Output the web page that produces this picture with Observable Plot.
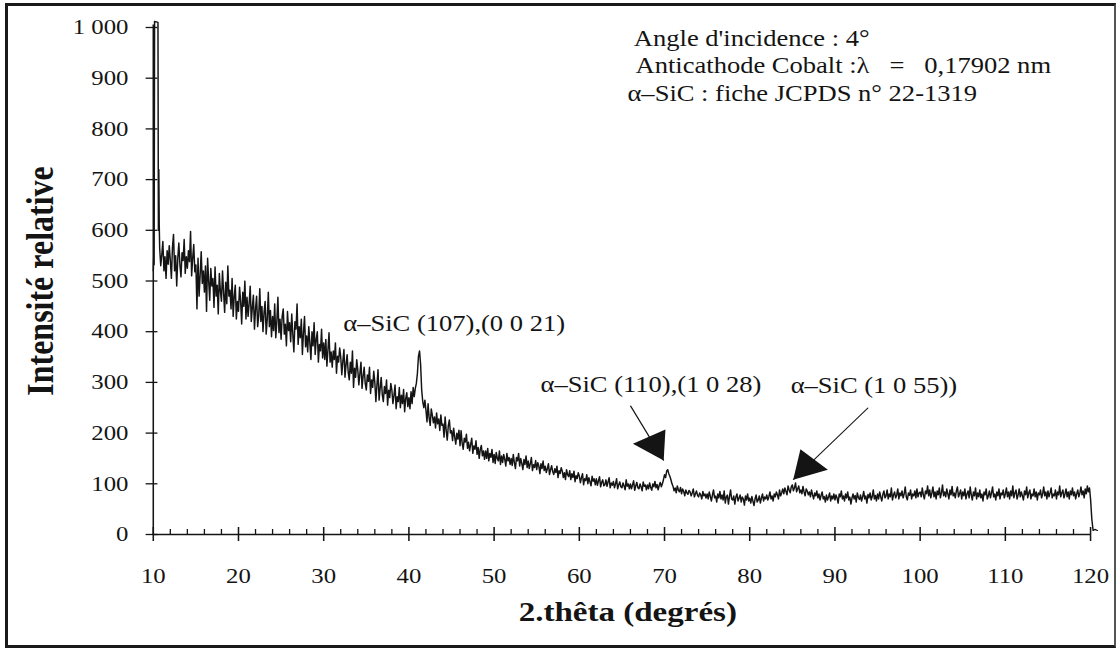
<!DOCTYPE html>
<html><head><meta charset="utf-8">
<script src="https://cdn.jsdelivr.net/npm/d3@7"></script>
<script src="https://cdn.jsdelivr.net/npm/@observablehq/plot@0.6"></script>
<style>
html,body{margin:0;padding:0;background:#fff;}
#wrap{position:relative;width:1118px;height:652px;overflow:hidden;background:#fff;}
#chart{position:absolute;left:0;top:0;transform:scaleX(1.18);transform-origin:0 0;}
#border{position:absolute;left:5px;top:3px;width:1111px;height:645px;box-sizing:border-box;border:3px solid #1a1a1a;border-right:2px solid #555;pointer-events:none;}
</style></head>
<body><div id="wrap"><div id="chart"></div><div id="border"></div></div>
<script>
// ---- data ----
const onsetTheta = [10.0, 10.05, 10.1, 10.15, 10.55, 10.6, 10.65, 10.7];
const onsetIntensity = [520, 548, 532, 1012, 1010, 600, 720, 610];

// scan from 10.75° with a 0.125° step (one row per degree)
const scanStart = 10.75, scanStep = 0.125;
const scanIntensity = [
  565, 530,
  552, 578, 520, 548, 505, 560, 533, 570,
  540, 505, 566, 592, 520, 550, 490, 545,
  575, 532, 508, 556, 540, 582, 515, 548,
  525, 560, 538, 598, 510, 545, 572, 518,
  532, 445, 545, 470, 512, 558, 495, 520,
  478, 530, 440, 545, 500, 462, 525, 490,
  505, 448, 528, 470, 492, 435, 515, 480,
  460, 520, 478, 438, 498, 455, 530, 470,
  482, 445, 505, 430, 470, 492, 425, 460,
  440, 488, 460, 415, 478, 450, 500, 425,
  468, 430, 455, 490, 420, 448, 472, 405,
  445, 470, 410, 432, 485, 420, 450, 400,
  438, 460, 395, 425, 478, 410, 442, 390,
  430, 402, 455, 388, 420, 468, 398, 425,
  385, 430, 445, 395, 415, 372, 440, 402,
  418, 380, 435, 395, 360, 420, 405, 455,
  375, 410, 388, 425, 355, 398, 430, 370,
  392, 360, 410, 378, 345, 400, 372, 418,
  355, 385, 400, 340, 375, 362, 405, 348,
  378, 345, 385, 332, 365, 398, 340, 360,
  330, 362, 345, 378, 318, 352, 340, 368,
  350, 315, 342, 365, 310, 335, 355, 320,
  305, 340, 318, 362, 290, 328, 310, 345,
  325, 295, 318, 340, 288, 312, 330, 298,
  285, 315, 302, 330, 278, 305, 290, 322,
  300, 262, 295, 325, 265, 288, 310, 276,
  262, 292, 278, 305, 255, 285, 270, 298,
  285, 258, 275, 295, 248, 272, 262, 290,
  250, 275, 258, 286, 242, 268, 280, 252,
  270, 248, 282, 258, 290, 272, 288, 298,
  318, 352, 362, 335, 285, 262, 250, 265,
  245, 222, 258, 230, 215, 248, 235, 220,
  232, 210, 240, 218, 228, 205, 236, 215,
  218, 192, 232, 205, 186, 215, 226, 200,
  205, 185, 210, 192, 178, 200, 188, 206,
  175, 205, 180, 168, 190, 182, 198, 170,
  182, 165, 178, 190, 160, 175, 168, 185,
  158, 172, 150, 168, 176, 155, 165, 148,
  165, 150, 170, 145, 160, 152, 168, 142,
  158, 140, 162, 150, 145, 165, 138, 155,
  142, 158, 148, 135, 160, 145, 152, 138,
  150, 136, 158, 142, 130, 152, 145, 160,
  135, 150, 140, 128, 148, 138, 155, 132,
  145, 130, 140, 152, 126, 138, 132, 146,
  128, 142, 135, 120, 140, 130, 145, 126,
  135, 122, 130, 140, 118, 128, 136, 124,
  118, 130, 122, 135, 112, 126, 120, 132,
  125, 112, 122, 108, 128, 118, 114, 126,
  108, 120, 112, 125, 104, 116, 110, 122,
  115, 102, 112, 120, 98, 110, 106, 118,
  100, 112, 104, 96, 115, 105, 110, 98,
  110, 97, 106, 114, 94, 103, 108, 96,
  98, 108, 95, 104, 112, 92, 102, 97,
  105, 92, 100, 110, 90, 98, 104, 94,
  92, 102, 96, 88, 108, 95, 100, 90,
  100, 90, 98, 106, 87, 96, 103, 92,
  90, 100, 94, 86, 104, 95, 98, 88,
  98, 90, 102, 93, 87, 100, 94, 105,
  92, 99, 88, 97, 103, 94, 100, 108,
  118, 112, 125, 128, 120, 115, 108, 100,
  95, 86, 92, 82, 96, 88, 84, 93,
  80, 90, 85, 76, 88, 82, 79, 87,
  84, 76, 82, 90, 74, 80, 86, 77,
  74, 82, 78, 70, 85, 76, 80, 72,
  80, 70, 84, 75, 66, 78, 88, 72,
  76, 64, 80, 72, 85, 70, 78, 68,
  86, 62, 74, 78, 60, 75, 88, 70,
  68, 76, 60, 74, 80, 66, 72, 78,
  64, 74, 70, 58, 76, 68, 80, 66,
  72, 62, 75, 66, 57, 70, 78, 64,
  68, 76, 62, 72, 80, 66, 74, 70,
  78, 68, 75, 84, 70, 76, 66, 80,
  74, 84, 78, 70, 88, 76, 82, 90,
  80, 92, 85, 78, 96, 88, 82, 94,
  98, 86, 92, 102, 84, 90, 96, 82,
  88, 80, 95, 84, 76, 90, 86, 78,
  84, 74, 88, 78, 70, 82, 76, 86,
  72, 80, 68, 77, 84, 70, 75, 64,
  78, 68, 74, 82, 66, 76, 70, 80,
  68, 78, 72, 62, 80, 74, 86, 70,
  76, 66, 80, 72, 84, 68, 74, 60,
  72, 80, 70, 77, 64, 82, 73, 69,
  78, 66, 74, 85, 70, 76, 62, 79,
  72, 82, 68, 75, 88, 70, 77, 66,
  80, 70, 84, 74, 66, 79, 86, 72,
  76, 88, 70, 80, 74, 92, 68, 78,
  84, 72, 78, 90, 70, 82, 76, 86,
  72, 80, 94, 74, 68, 82, 77, 88,
  70, 80, 76, 86, 72, 90, 74, 82,
  84, 74, 92, 78, 70, 86, 80, 96,
  76, 88, 72, 82, 94, 74, 84, 70,
  86, 78, 92, 72, 82, 98, 76, 84,
  74, 90, 80, 70, 88, 78, 95, 76,
  82, 72, 86, 94, 74, 80, 88, 70,
  84, 76, 90, 70, 80, 86, 72, 94,
  78, 68, 84, 76, 92, 70, 82, 74,
  88, 72, 80, 66, 84, 78, 90, 70,
  76, 86, 72, 82, 94, 74, 80, 68,
  84, 76, 90, 70, 82, 78, 88, 72,
  80, 92, 74, 84, 70, 86, 76, 96,
  72, 82, 88, 70, 78, 90, 74, 84,
  76, 68, 86, 78, 94, 72, 82, 88,
  70, 80, 76, 90, 74, 84, 68, 82,
  78, 88, 72, 80, 94, 76, 84, 70,
  86, 74, 82, 92, 72, 80, 76, 88,
  70, 84, 78, 96, 74, 82, 88, 72,
  80, 90, 74, 84, 70, 86, 78, 92,
  76, 84, 70, 80, 88, 74, 82, 94,
  78, 86, 72, 90, 80, 96, 84, 92
];
const tailTheta = [120.0, 120.15, 120.3, 120.5, 120.8];
const tailIntensity = [70, 30, 8, 10, 8];

const xTicks = [10, 20, 30, 40, 50, 60, 70, 80, 90, 100, 110, 120];
const xTickLabels = ["10", "20", "30", "40", "50", "60", "70", "80", "90", "100", "110", "120"];
const yTicks = [0, 100, 200, 300, 400, 500, 600, 700, 800, 900, 1000];
const yTickLabels = ["0", "100", "200", "300", "400", "500", "600", "700", "800", "900", "1\u00a0000"];

const xTitle = "2.thêta (degrés)";
const yTitle = "Intensité relative";

const noteText = [
  "Angle d'incidence : 4°",
  "Anticathode Cobalt :λ\u00a0\u00a0\u00a0=\u00a0\u00a0\u00a00,17902 nm",
  "α–SiC : fiche JCPDS n° 22-1319",
  "α–SiC (107),(0 0 21)",
  "α–SiC (110),(1 0 28)",
  "α–SiC (1 0 55))"
];
const noteX = [66.4, 66.6, 65.65, 32.3, 55.45, 84.8];
const noteY = [978, 925, 870, 416, 296, 294];

const arrowTailX = [66.0, 93.9];
const arrowTailY = [254, 250];
const arrowTipX = [69.9, 85.1];
const arrowTipY = [146, 108];

// ---- build ----
const spectrum = [];
onsetTheta.forEach((t, i) => spectrum.push({theta: t, intensity: onsetIntensity[i]}));
scanIntensity.forEach((v, i) => spectrum.push({theta: scanStart + i * scanStep, intensity: v}));
tailTheta.forEach((t, i) => spectrum.push({theta: t, intensity: tailIntensity[i]}));

const notes = noteText.map((t, i) => ({text: t, x: noteX[i], y: noteY[i]}));
const arrows = arrowTailX.map((x, i) => ({x1: x, y1: arrowTailY[i], x2: arrowTipX[i], y2: arrowTipY[i]}));
const xMinor = d3.range(12, 120, 2).filter(d => d % 10 !== 0);

const W = 947, H = 652, mL = 129.4, mR = 23.3, mT = 27, mB = 118;
const serif = "'Liberation Serif', 'Times New Roman', serif";
const ink = "#141414";

const xs = d3.scaleLinear([10, 120], [mL, W - mR]);
const ys = d3.scaleLinear([0, 1000], [H - mB, mT]);
const side = 31;
const heads = arrows.map(a => {
  const px = xs(a.x2), py = ys(a.y2), qx = xs(a.x1), qy = ys(a.y1);
  const len = Math.hypot(px - qx, py - qy);
  const ux = (px - qx) / len, uy = (py - qy) / len;
  const d = side / Math.sqrt(3);
  return {x: xs.invert(px - ux * d), y: ys.invert(py - uy * d), rotate: Math.atan2(ux, -uy) * 180 / Math.PI};
});
const headR = Math.sqrt(Math.sqrt(3) / 4 * side * side / Math.PI);

const plot = Plot.plot({
  width: W, height: H,
  marginLeft: mL, marginRight: mR, marginTop: mT, marginBottom: mB,
  x: {domain: [10, 120], axis: null},
  y: {domain: [0, 1000], axis: null},
  style: {fontFamily: serif, background: "transparent", color: ink, overflow: "visible"},
  marks: [
    Plot.ruleY([0], {x1: 10, x2: 120, stroke: ink, strokeWidth: 1.3}),
    Plot.ruleX([10], {y1: 0, y2: 1005, stroke: ink, strokeWidth: 1.3}),
    Plot.ruleY(yTicks, {x1: 10, x2: 10, insetLeft: -6, insetRight: -4, stroke: ink, strokeWidth: 1.3}),
    Plot.ruleX(xTicks, {y1: 0, y2: 0, insetTop: -7, insetBottom: -7, stroke: ink, strokeWidth: 1.3}),
    Plot.ruleX(xMinor, {y1: 0, y2: 0, insetTop: -5, insetBottom: 0, stroke: ink, strokeWidth: 1.1}),
    Plot.line(spectrum, {x: "theta", y: "intensity", stroke: ink, strokeWidth: 1.25}),
    Plot.text(yTicks, {x: 10, y: d => d, text: (d, i) => yTickLabels[i], textAnchor: "end", dx: -21, fontSize: 21, fill: ink}),
    Plot.text(xTicks, {x: d => d, y: 0, text: (d, i) => xTickLabels[i], dy: 42, fontSize: 21, fill: ink}),
    Plot.text([xTitle], {text: d => d, frameAnchor: "bottom", textAnchor: "middle", dx: 5, dy: 86, fontSize: 28, fontWeight: "bold", fill: ink}),
    Plot.text([yTitle], {text: d => d, frameAnchor: "left", textAnchor: "middle", rotate: -90, dx: -95.5, fontSize: 32, fontWeight: "bold", fill: ink}),
    Plot.text(notes, {x: "x", y: "y", text: "text", textAnchor: "start", fontSize: 22.5, fill: ink}),
    Plot.link(arrows, {x1: "x1", y1: "y1", x2: "x2", y2: "y2", stroke: ink, strokeWidth: 1.1}),
    Plot.dot(heads, {x: "x", y: "y", rotate: "rotate", symbol: "triangle", r: headR, fill: ink, stroke: "none"})
  ]
});
document.getElementById("chart").appendChild(plot);
</script></body></html>
